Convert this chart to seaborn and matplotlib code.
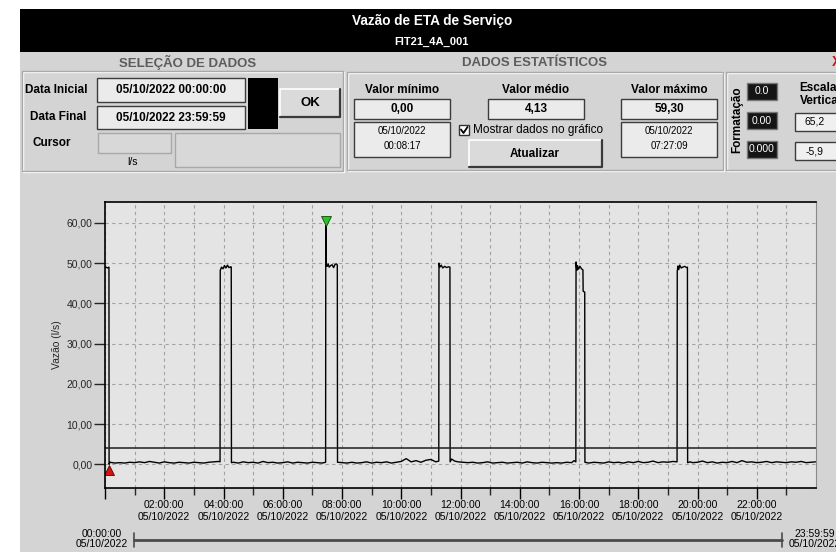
import numpy as np
import pandas as pd
import seaborn as sns
import matplotlib.pyplot as plt
from matplotlib.patches import Rectangle

sns.set_style("ticks")
plt.rcParams['font.family'] = ['Liberation Sans', 'DejaVu Sans']

# ---- data (time in minutes after 00:00 of 05/10/2022) ----
minutes = [
    0, 2, 5, 8, 8.28,
    10, 20, 30, 40, 50, 60, 70, 80, 90, 100, 110, 120, 130, 140, 150, 160,
    170, 180, 190, 200, 210, 220, 230, 233,
    233.4, 236, 239, 242, 245, 248, 251, 255, 255.7,
    256.1, 260, 270, 280, 290, 300, 310, 320, 330, 340, 350, 360, 370, 380,
    390, 400, 410, 420, 430, 440, 446.8,
    447.15, 447.8, 448.3, 450, 452, 454, 457, 460, 463, 466, 469, 470.5,
    470.9, 480, 490, 500, 510, 520, 530, 540, 550, 560, 570, 580, 590, 600,
    610, 620, 630, 640, 650, 660, 670, 676,
    676.4, 678, 681, 684, 688, 692, 696, 698.6,
    699, 702, 708, 715, 725, 735, 745, 755, 765, 775, 785, 795, 805, 815,
    825, 835, 845, 855, 865, 875, 885, 895, 905, 915, 925, 935, 945, 950, 953.6,
    954, 955.5, 957, 959, 962, 965, 968, 968.4, 971.6,
    972, 980, 990, 1000, 1010, 1020, 1030, 1040, 1050, 1060, 1070, 1080, 1090,
    1100, 1110, 1120, 1130, 1140, 1150, 1158.6,
    1159, 1160.5, 1162, 1164, 1167, 1170, 1174, 1178, 1179.6,
    1180, 1185, 1190, 1200, 1210, 1220, 1230, 1240, 1250, 1260, 1270, 1280,
    1290, 1300, 1310, 1320, 1330, 1340, 1350, 1360, 1370, 1380, 1390, 1400,
    1410, 1420, 1430, 1439,
]
flow = [
    49.2, 49.0, 48.8, 49.0, 0.0,
    0.5, 0.3, 0.4, 0.3, 0.5, 0.4, 0.6, 0.4, 0.7, 0.5, 0.3, 0.6, 0.4, 0.3, 0.5, 0.4,
    0.3, 0.5, 0.4, 0.3, 0.5, 0.6, 0.7, 0.6,
    48.2, 49.0, 48.6, 49.4, 48.8, 49.5, 48.9, 49.1, 49.0,
    0.4, 0.5, 0.3, 0.6, 0.4, 0.5, 0.3, 0.7, 0.4, 0.5, 0.3, 0.4, 0.6, 0.3,
    0.5, 0.4, 0.3, 0.5, 0.4, 0.3, 0.5,
    59.3, 54.0, 49.6, 49.2, 49.8, 49.0, 49.4, 49.6, 48.9, 49.7, 49.8, 49.5,
    0.5, 0.4, 0.3, 0.5, 0.3, 0.4, 0.6, 0.3, 0.5, 0.4, 0.6, 0.3, 0.5, 0.7,
    1.4, 0.6, 0.9, 0.5, 1.0, 1.2, 0.6, 0.8,
    50.0, 49.0, 49.5, 48.8, 49.2, 48.9, 49.1, 49.0,
    0.6, 1.3, 0.8, 0.6, 0.5, 0.4, 0.5, 0.3, 0.4, 0.6, 0.3, 0.4, 0.5, 0.3,
    0.4, 0.5, 0.3, 0.6, 0.4, 0.3, 0.5, 0.4, 0.3, 0.4, 0.3, 0.5, 0.4, 0.9, 0.6,
    50.3, 48.2, 49.4, 48.5, 49.2, 48.6, 48.3, 43.0, 42.8,
    0.5, 0.3, 0.5, 0.4, 0.3, 0.6, 0.4, 0.5, 0.3, 0.6, 0.4, 0.7, 0.4,
    0.5, 0.8, 0.4, 0.6, 0.5, 0.7, 0.6,
    48.0, 49.3, 48.4, 49.5, 48.8, 49.0, 49.2, 48.9, 49.0,
    0.4, 0.6, 0.4, 0.5, 0.8, 0.4, 0.6, 0.3, 0.5, 0.4, 0.7, 0.4, 0.9,
    0.5, 0.6, 0.4, 0.5, 0.7, 0.4, 0.6, 0.5, 0.4, 0.6, 0.5,
    0.7, 0.4, 0.5, 0.6,
]

mean_value = 4.13
min_minute, min_value = 8.28, 0.0        # 00:08:17
max_minute, max_value = 447.15, 59.3     # 07:27:09
y_range = [-5.9, 65.2]

y_ticks = [0, 10, 20, 30, 40, 50, 60]
y_tick_labels = ['0,00', '10,00', '20,00', '30,00', '40,00', '50,00', '60,00']
x_ticks = [0, 2, 4, 6, 8, 10, 12, 14, 16, 18, 20, 22]
x_tick_labels = ['', '02:00:00\n05/10/2022', '04:00:00\n05/10/2022',
                 '06:00:00\n05/10/2022', '08:00:00\n05/10/2022',
                 '10:00:00\n05/10/2022', '12:00:00\n05/10/2022',
                 '14:00:00\n05/10/2022', '16:00:00\n05/10/2022',
                 '18:00:00\n05/10/2022', '20:00:00\n05/10/2022',
                 '22:00:00\n05/10/2022']

df = pd.DataFrame({'hora': np.array(minutes) / 60.0, 'vazao': flow})

# ---- figure, drawn in screen pixels ----
W, H = 836, 552
PANEL = '#d4d4d4'
fig = plt.figure(figsize=(W / 100, H / 100), dpi=100, facecolor='white')
bg = fig.add_axes([0, 0, 1, 1])
bg.set_xlim(0, W)
bg.set_ylim(H, 0)
bg.axis('off')


def rect(x0, y0, x1, y1, fc='none', ec='none', lw=1.0, z=1):
    bg.add_patch(Rectangle((x0, y0), x1 - x0, y1 - y0, fc=fc, ec=ec, lw=lw, zorder=z))


def etched(x0, y0, x1, y1):
    rect(x0 + 1, y0 + 1, x1 + 1, y1 + 1, ec='white', lw=1, z=2)
    rect(x0, y0, x1, y1, ec='#a9a9a9', lw=1, z=2)


def field(x0, y0, x1, y1, fc='#ebebeb'):
    rect(x0, y0, x1, y1, fc=fc, ec='#3c3c3c', lw=1, z=3)


def button(x0, y0, x1, y1):
    rect(x0, y0, x1, y1, fc='#dadada', z=3)
    bg.plot([x0, x0, x1], [y1, y0, y0], color='white', lw=1.2, zorder=4)
    bg.plot([x0, x1, x1], [y1, y1, y0], color='#3a3a3a', lw=1.6, zorder=4)


def txt(x, y, s, size=8.5, weight='bold', color='black', ha='center', **kw):
    bg.text(x, y, s, ha=ha, va='center', fontsize=size, fontweight=weight,
            color=color, zorder=5, **kw)


rect(20, 9, W, H, fc=PANEL, z=0)
rect(20, 9, W, 52, fc='black', z=1)
txt(432, 21, 'Vazão de ETA de Serviço', size=9.8, weight='semibold', color='white')
txt(431, 42, 'FIT21_4A_001', size=8, color='white')

# data selection panel
txt(188, 62, 'SELEÇÃO DE DADOS', size=9.5, color='#5c5c5c')
etched(22, 71, 343, 171)
txt(56, 90, 'Data Inicial')
txt(58, 117, 'Data Final')
txt(52, 143, 'Cursor')
field(97, 78, 245, 102)
field(97, 106, 245, 129)
txt(171, 90, '05/10/2022 00:00:00')
txt(171, 118, '05/10/2022 23:59:59')
rect(248, 78, 278, 129, fc='black', z=3)
button(280, 89, 340, 117)
txt(310, 103, 'OK', size=9.5)
rect(98, 133, 171, 153, fc='#d8d8d8', ec='#a8a8a8', z=3)
rect(175, 133, 340, 167, fc='#d8d8d8', ec='#a8a8a8', z=3)
txt(133, 162, 'l/s', size=7.5, weight='normal')

# statistics panel
txt(535, 63, 'DADOS ESTATÍSTICOS', size=9.5, color='#5c5c5c')
etched(347, 72, 723, 170)
for cx, title, val, d, t in [(402, 'Valor mínimo', '0,00', '05/10/2022', '00:08:17'),
                             (669, 'Valor máximo', '59,30', '05/10/2022', '07:27:09')]:
    txt(cx, 90, title)
    field(cx - 48, 99, cx + 48, 119)
    txt(cx, 109, val)
    field(cx - 48, 122, cx + 48, 157)
    txt(cx, 131, d, size=7, weight='normal')
    txt(cx, 146, t, size=7, weight='normal')
txt(536, 90, 'Valor médio')
field(488, 99, 584, 119)
txt(536, 109, '4,13')
rect(459, 125, 469, 135, fc='white', ec='#333333', lw=1, z=3)
bg.plot([461, 463.5, 467.5], [129.5, 133, 127], color='black', lw=1.3, zorder=4)
txt(473, 130, 'Mostrar dados no gráfico', weight='normal', ha='left')
button(469, 140, 602, 167)
txt(535, 154, 'Atualizar')

# format / scale panel
etched(726, 72, 845, 170)
txt(737, 120, 'Formatação', rotation=90)
for yy, s in [(83, '0.0'), (112, '0.00'), (141, '0.000')]:
    rect(747, yy, 777, yy + 17, fc='#151515', ec='#777777', lw=1, z=3)
    txt(762, yy + 8.5, s, size=7.5, weight='normal', color='white')
txt(799, 88, 'Escala', ha='left')
txt(800, 101, 'Vertical', ha='left')
field(795, 113, 850, 131, fc='#f0f0f0')
field(795, 142, 850, 160, fc='#f0f0f0')
txt(815, 122, '65,2', size=7.5, weight='normal')
txt(815, 151, '-5,9', size=7.5, weight='normal')
txt(836, 62, 'X', size=10, color='#d01010')

# time scroll bar under the chart
bg.plot([134, 782], [540, 540], color='#4a4a4a', lw=2, zorder=3)
bg.plot([134, 134], [533, 547], color='#4a4a4a', lw=1.2, zorder=3)
bg.plot([782, 782], [533, 547], color='#4a4a4a', lw=1.2, zorder=3)
txt(102, 539, '00:00:00\n05/10/2022', size=7.5, weight='normal', linespacing=1.1)
txt(815, 539, '23:59:59\n05/10/2022', size=7.5, weight='normal', linespacing=1.1)

# ---- trend chart ----
ax = fig.add_axes([105 / W, 1 - 488 / H, 711 / W, 286 / H])
ax.set_facecolor('#e4e4e4')
ax.set_axisbelow(True)
sns.lineplot(data=df, x='hora', y='vazao', ax=ax, color='black', lw=1.0,
             estimator=None, sort=False)
ax.axhline(mean_value, color='#1e1e1e', lw=1.1)
ax.plot([min_minute / 60], [min_value - 1.4], marker='^', ms=7, color='#d41414',
        mec='#5a0000', mew=0.6, ls='none')
ax.plot([max_minute / 60], [max_value + 1.3], marker='v', ms=7, color='#2cc02c',
        mec='#0a4a0a', mew=0.6, ls='none')

ax.set_xlim(0, 24)
ax.set_ylim(*y_range)
ax.set_xticks(x_ticks)
ax.set_xticklabels(x_tick_labels, fontsize=7.5, linespacing=1.2)
ax.set_xticks(np.arange(1, 24, 2), minor=True)
ax.set_yticks(y_ticks)
ax.set_yticklabels(y_tick_labels, fontsize=7.5)
ax.tick_params(axis='x', which='major', length=8, width=1, pad=1, colors='black')
ax.tick_params(axis='x', which='minor', length=5, width=1)
ax.tick_params(axis='y', length=8, width=1, pad=1)
grid_kw = dict(color='#a2a2a2', lw=0.8, ls=(0, (3, 3)))
ax.grid(True, axis='x', which='both', **grid_kw)
ax.grid(True, axis='y', which='major', **grid_kw)
for side in ['top', 'left', 'bottom']:
    ax.spines[side].set_color('black')
    ax.spines[side].set_linewidth(1.2)
ax.spines['right'].set_visible(True)
ax.spines['right'].set_color('#8a8a8a')
ax.set_xlabel('')
ax.set_ylabel('Vazão (l/s)', fontsize=7.5)
ax.yaxis.set_label_coords((62 - 105) / 711, (488 - 345) / 286)

fig.savefig('out.png', dpi=100, facecolor=fig.get_facecolor())
